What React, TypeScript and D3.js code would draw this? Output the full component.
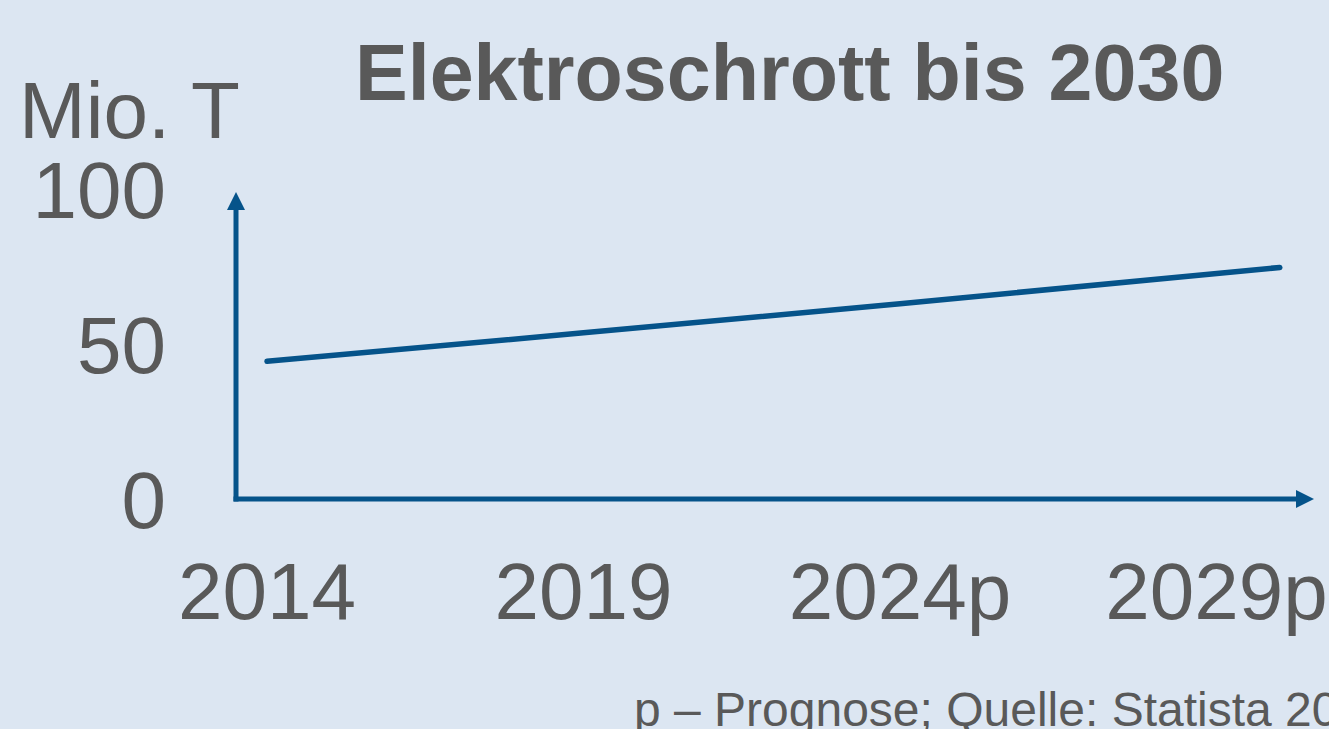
import React from "react";
import * as d3 from "d3";

const years = [2014, 2019, 2024, 2030];
const values = [44.4, 53.6, 63.0, 74.7];
const xTickYears = [2014, 2019, 2024, 2029];
const xTickLabels = ["2014", "2019", "2024p", "2029p"];
const yTicks = [0, 50, 100];
const title = "Elektroschrott bis 2030";
const yUnit = "Mio. T";
const footnote = "p – Prognose; Quelle: Statista 2020";

const W = 1329;
const H = 729;
const BG = "#dce6f2";
const TEXT = "#595959";
const BLUE = "#05538a";
const FONT = "'Liberation Sans', Arial, sans-serif";

export default function App() {
  const x = d3.scaleLinear().domain([2014, 2019]).range([267, 583.5]);
  const y = d3.scaleLinear().domain([0, 100]).range([499, 189]);
  const line = d3
    .line<number>()
    .x((_, i) => x(years[i]))
    .y((d) => y(d));

  const axisX = 236;
  const axisY = y(0);
  const ah = 18;
  const yTop = 192;
  const xRight = 1314;

  return (
    <svg
      width={W}
      height={H}
      style={{ position: "fixed", left: 0, top: 0, display: "block" }}
      fontFamily={FONT}
    >
      <rect x={0} y={0} width={W} height={H} fill={BG} />
      <text x={355} y={100} fontSize={79} fontWeight="bold" fill={TEXT}>
        {title}
      </text>
      <text x={19} y={138} fontSize={80} fill={TEXT}>
        {yUnit}
      </text>
      {yTicks.map((t) => (
        <text
          key={t}
          x={166}
          y={y(t) + 28.6}
          fontSize={80}
          fill={TEXT}
          textAnchor="end"
        >
          {t}
        </text>
      ))}
      {xTickYears.map((t, i) => (
        <text
          key={t}
          x={x(t)}
          y={619}
          fontSize={80}
          fill={TEXT}
          textAnchor="middle"
        >
          {xTickLabels[i]}
        </text>
      ))}
      <line
        x1={axisX}
        y1={axisY + 2.5}
        x2={axisX}
        y2={yTop + ah - 1}
        stroke={BLUE}
        strokeWidth={5}
      />
      <path
        d={`M${axisX - ah / 2},${yTop + ah} L${axisX},${yTop} L${axisX + ah / 2},${yTop + ah} Z`}
        fill={BLUE}
      />
      <line
        x1={axisX - 2.5}
        y1={axisY}
        x2={xRight - ah + 1}
        y2={axisY}
        stroke={BLUE}
        strokeWidth={5}
      />
      <path
        d={`M${xRight - ah},${axisY - ah / 2} L${xRight},${axisY} L${xRight - ah},${axisY + ah / 2} Z`}
        fill={BLUE}
      />
      <path
        d={line(values) || ""}
        fill="none"
        stroke={BLUE}
        strokeWidth={5.5}
        strokeLinecap="round"
        strokeLinejoin="round"
      />
      <text x={634} y={726} fontSize={48} fill={TEXT}>
        {footnote}
      </text>
    </svg>
  );
}
